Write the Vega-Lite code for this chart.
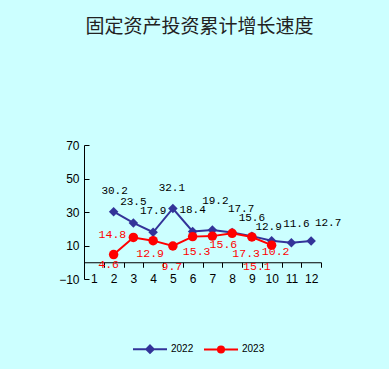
{
  "$schema": "https://vega.github.io/schema/vega-lite/v6.json",
  "background": "#CCFFFF",
  "padding": {"left": 58, "top": 18, "right": 68, "bottom": 12},
  "width": 237,
  "height": 134,
  "title": {"text": "固定资产投资累计增长速度", "fontSize": 19, "font": "Noto Sans CJK SC", "fontWeight": "normal", "color": "#222222", "offset": 102, "dx": -3},
  "config": {"view": {"stroke": null}},
  "data": {"values": [
    {"month": 2, "year": "2022", "value": 30.2},
    {"month": 3, "year": "2022", "value": 23.5},
    {"month": 4, "year": "2022", "value": 17.9},
    {"month": 5, "year": "2022", "value": 32.1},
    {"month": 6, "year": "2022", "value": 18.4},
    {"month": 7, "year": "2022", "value": 19.2},
    {"month": 8, "year": "2022", "value": 17.7},
    {"month": 9, "year": "2022", "value": 15.6},
    {"month": 10, "year": "2022", "value": 12.9},
    {"month": 11, "year": "2022", "value": 11.6},
    {"month": 12, "year": "2022", "value": 12.7},
    {"month": 2, "year": "2023", "value": 4.6},
    {"month": 3, "year": "2023", "value": 14.8},
    {"month": 4, "year": "2023", "value": 12.9},
    {"month": 5, "year": "2023", "value": 9.7},
    {"month": 6, "year": "2023", "value": 15.3},
    {"month": 7, "year": "2023", "value": 15.6},
    {"month": 8, "year": "2023", "value": 17.3},
    {"month": 9, "year": "2023", "value": 15.1},
    {"month": 10, "year": "2023", "value": 10.2}
  ]},
  "encoding": {
    "x": {"field": "month", "type": "ordinal",
      "scale": {"type": "band", "domain": [1,2,3,4,5,6,7,8,9,10,11,12], "paddingInner": 0, "paddingOuter": 0},
      "axis": {"title": null, "offset": -16.75, "labelAngle": 0, "tickBand": "extent", "tickSize": 5, "tickColor": "black", "domainColor": "black", "labelFont": "Liberation Sans", "labelFontSize": 12, "labelColor": "black", "labelPadding": 6, "grid": false}},
    "y": {"field": "value", "type": "quantitative",
      "scale": {"domain": [-10, 70], "nice": false, "zero": false},
      "axis": {"title": null, "values": [-10, 10, 30, 50, 70], "tickSize": -5, "tickColor": "black", "domainColor": "black", "labelFont": "Liberation Sans", "labelFontSize": 12, "labelColor": "black", "labelPadding": 10, "grid": false}}
  },
  "layer": [
    {"mark": {"type": "line", "strokeWidth": 2},
     "encoding": {"color": {"field": "year", "type": "nominal",
       "scale": {"domain": ["2022", "2023"], "range": ["#333399", "#FF0000"]},
       "legend": {"orient": "none", "legendX": 48, "legendY": 186, "direction": "horizontal", "title": null,
         "symbolSize": 1156, "symbolStrokeWidth": 2, "labelFont": "Liberation Sans", "labelFontSize": 10, "labelColor": "black", "labelOffset": 3, "columnPadding": 6,
         "encoding": {"symbols": {
           "shape": {"value": {"expr": "datum.value == '2022' ? 'M-1,0L1,0M0,-0.22L0.22,0L0,0.22L-0.22,0Z' : 'M-1,0L1,0M-0.18,0A0.18,0.18 0 1,0 0.18,0A0.18,0.18 0 1,0 -0.18,0Z'"}},
           "fill": {"value": {"expr": "scale('color', datum.value)"}},
           "fillOpacity": {"value": 1},
           "opacity": {"value": 1}
         }}}}}},
    {"mark": {"type": "point", "filled": true, "size": 90, "opacity": 1,
       "shape": {"expr": "datum.year == '2022' ? 'diamond' : 'circle'"}},
     "encoding": {
       "color": {"field": "year", "type": "nominal", "legend": null}}},
    {"transform": [{"filter": "datum.year == '2022'"}],
     "mark": {"type": "text", "font": "Liberation Mono", "fontSize": 11, "color": "black",
       "dx": {"expr": "[0,0,1,0,0,-1,0,3,9,0,-3,5,17][datum.month]"},
       "dy": {"expr": "[0,0,-21,-21,-21,-20,-21,-29,-24,-18,-14,-19,-18][datum.month]"}},
     "encoding": {"text": {"field": "value", "type": "quantitative", "format": ".1f"}}},
    {"transform": [{"filter": "datum.year == '2023'"}],
     "mark": {"type": "text", "font": "Liberation Mono", "fontSize": 11.5, "color": "#FF0000",
       "dx": {"expr": "[0,0,-5,-21,-3,-1,4,11,14,5,4][datum.month]"},
       "dy": {"expr": "[0,0,10,-2,13,21,15,9,21,30,7][datum.month]"}},
     "encoding": {"text": {"field": "value", "type": "quantitative", "format": ".1f"}}}
  ]
}
